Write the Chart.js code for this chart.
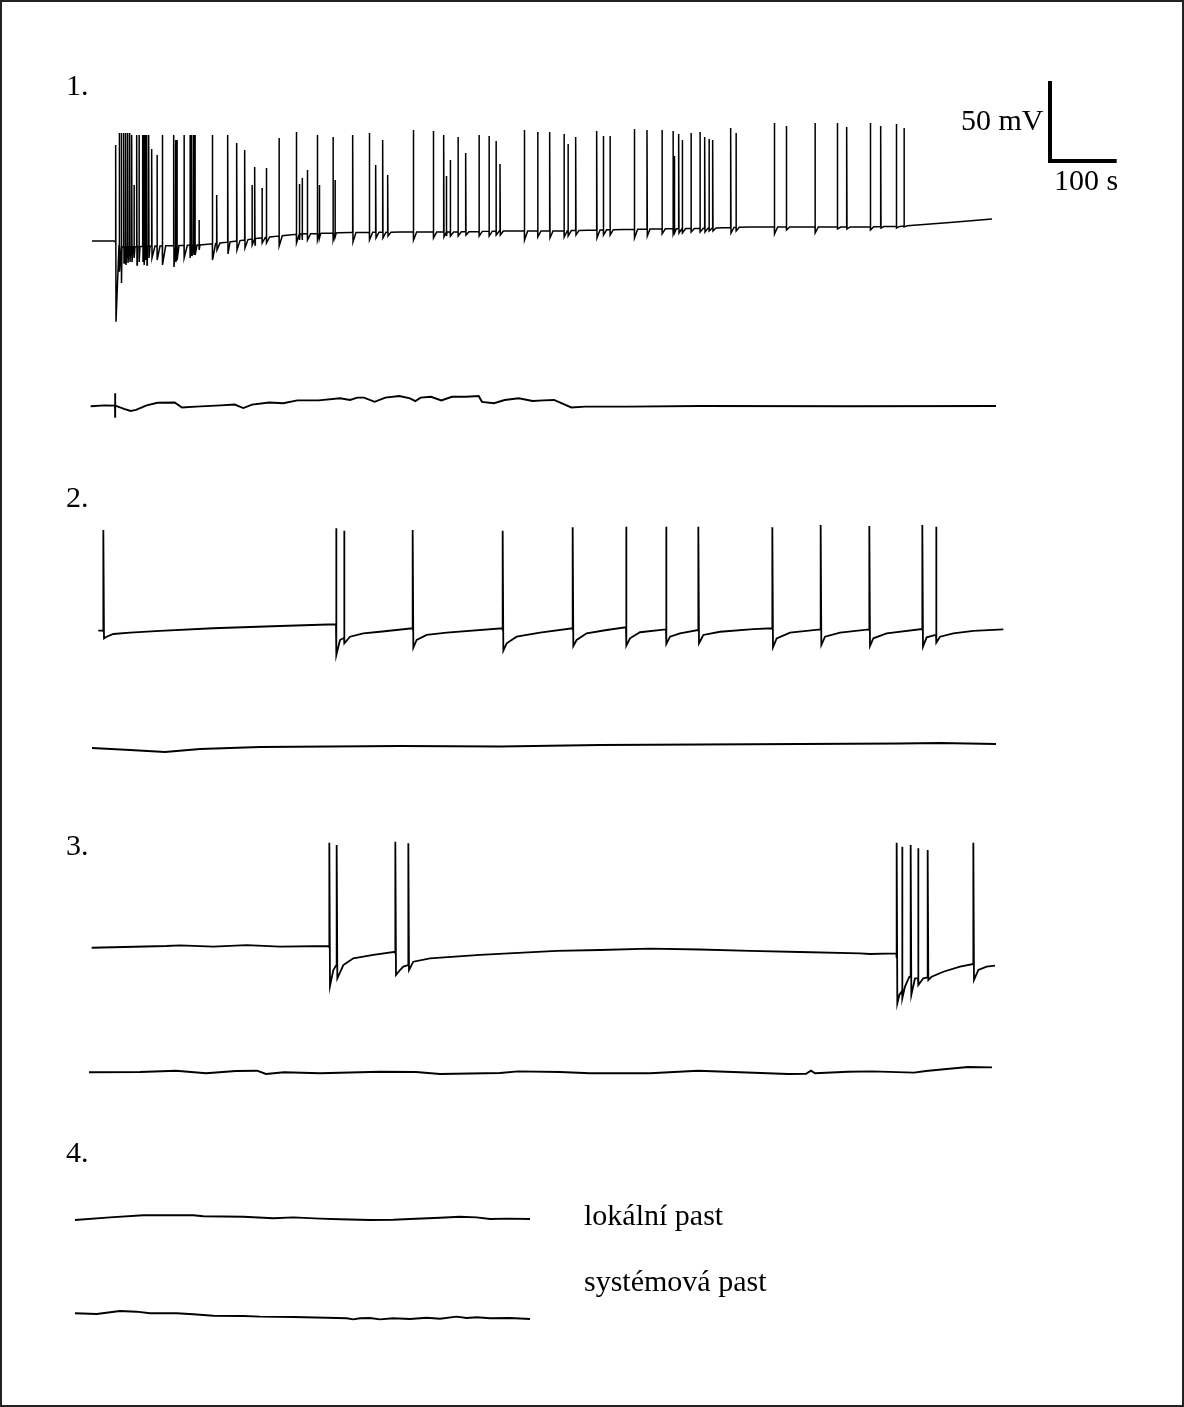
<!DOCTYPE html>
<html>
<head>
<meta charset="utf-8">
<script src="https://cdn.jsdelivr.net/npm/chart.js@4.4.1/dist/chart.umd.min.js"></script>
<style>
html, body { margin: 0; padding: 0; background: #fff; }
#fig { position: relative; width: 1184px; height: 1407px; overflow: hidden; background: #fff; }
#frame { position: absolute; left: 0; top: 0; width: 1184px; height: 1407px; box-sizing: border-box; border: 2px solid #222; }
#fig canvas { position: absolute; left: 40px; }
.lbl { position: absolute; font-family: "Liberation Serif", "Times New Roman", serif; font-size: 30px; line-height: 30px; color: #000; white-space: nowrap; }
</style>
</head>
<body>
<div id="fig">
  <div id="frame"></div>
  <canvas id="c1" width="1100" height="272" style="top:65px"></canvas>
  <canvas id="c1b" width="1100" height="50" style="top:380px"></canvas>
  <canvas id="c2" width="1100" height="160" style="top:510px"></canvas>
  <canvas id="c2b" width="1100" height="50" style="top:720px"></canvas>
  <canvas id="c3" width="1100" height="190" style="top:830px"></canvas>
  <canvas id="c3b" width="1100" height="40" style="top:1050px"></canvas>
  <canvas id="c4a" width="1100" height="40" style="top:1195px"></canvas>
  <canvas id="c4b" width="1100" height="40" style="top:1295px"></canvas>

  <div class="lbl" style="left:66px;top:70px">1.</div>
  <div class="lbl" style="left:66px;top:482px">2.</div>
  <div class="lbl" style="left:66px;top:830px">3.</div>
  <div class="lbl" style="left:66px;top:1137px">4.</div>
  <div class="lbl" id="mvLbl" style="left:961px;top:105px"></div>
  <div class="lbl" id="sLbl" style="left:1054px;top:165px"></div>
  <div class="lbl" style="left:584px;top:1200px">lokální past</div>
  <div class="lbl" style="left:584px;top:1266px">systémová past</div>
</div>

<script>
// cas v s, napeti v mV

// 1. zaznam - pomala zmena klidoveho potencialu
var trace1BaseT = [78,111,123,180,240,285,330,390,465,540,615,690,765,840,915,990,1065,1140,1215,1290,1365,1428];
var trace1BaseV = [-60,-60,-63.75,-63.1,-62.5,-60.6,-58.1,-55.6,-54.7,-54.4,-54.4,-53.75,-53.75,-53.1,-52.5,-52.1,-51.25,-51.25,-51.25,-50.9,-48.4,-46.25];

// 1. zaznam - akcni potencialy (prvni je artefakt stimulace)
var trace1SpikeT = [113.5,119,122,125.5,128.5,131.5,134.5,137.5,141,145,148.5,154,156,158,160,163,167.5,175.5,183.5,200.5,203.5,205.5,216,225,227.5,230.5,232.5,238.5,258.5,265,281.5,295,307,318,322,333,339.5,358.5,384.5,389,393,401,416,419,439.5,442.5,469,494,503.5,514,521.5,560,590,605.5,609.5,615.5,627,638.5,658.5,673.5,684,690,726.5,746.5,764.5,786,792,803.5,835,845,855,891.5,910.5,933,949.5,951.5,958,963.5,976.5,990,997,1003.5,1009,1036,1044,1101.5,1119.5,1162.5,1196,1210,1245.5,1261,1284.5,1296];
var trace1SpikePeak = [0,7.5,7.5,7.5,7.5,7.5,7.5,6.25,-25,6.25,6.25,6.25,6.25,6.25,6.25,6.25,-2.5,-6.25,6.25,6.25,3.1,3.1,6.25,6.25,6.25,6.25,6.25,-46.9,6.25,-31.25,6.25,1.25,-3.1,-25,-13.75,-26.9,-14.4,4.4,8.1,-24.4,-20.6,-15.6,6.25,-25,5,-21.9,6.25,7.5,-12.5,3.1,-18.75,9.4,8.75,6.25,-19.4,-9.4,5,-5,6.25,5.6,2.5,-11.9,9.4,8.1,8.1,6.9,0.6,5,8.75,5.6,5.6,10,9.4,9.4,8.75,-6.9,6.9,3.1,7.5,8.1,5,3.75,3.1,10.6,7.5,13.75,11.9,13.75,13.75,11.25,13.75,11.9,13.1,10.6];
var trace1SpikeTrough = [-110.4,-79.2,-86.25,-73.75,-75,-73.75,-73.1,-73.1,-70.6,-75,-73.1,-73.1,-75,-71.9,-75,-70.6,-70.6,-71.9,-75,-76.25,-73.1,-71.9,-70.6,-70.6,-69.4,-68.75,-68.75,-65.6,-71.9,-65.6,-68.1,-65.6,-64.4,-62.5,-62.5,-61.25,-61.25,-63.1,-61.25,-59.4,-59.4,-59.4,-59.4,-58.1,-59.4,-57.5,-60.6,-59.4,-58.1,-58.1,-56.9,-59.4,-58.1,-57.5,-56.9,-56.9,-56.9,-56.25,-56.9,-56.9,-56.25,-56.25,-59.4,-57.5,-58.1,-57.5,-56.9,-56.25,-58.1,-56.25,-56.25,-58.1,-56.9,-55.6,-55,-55,-55,-55,-54.4,-54.4,-54.4,-53.75,-53.75,-55,-53.75,-55.6,-53.1,-55,-52.5,-52.5,-53.1,-51.9,-51.9,-51.25];

// 1. zaznam - spodni stopa
var trace1bT = [76,97,113,126,136,144,160,176,202,213,234,271,292,305,318,344,365,386,418,450,465,476,486,502,518,539,555,563,571,586.5,602,618,639,658,663,681,697,718,739,755,771,797,818,850,881,990,1215,1434];
var trace1bV = [-0.2,0.4,0.25,-1.75,-3.1,-2.4,0.4,2,2.2,-0.9,-0.4,0.4,0.9,-1.3,0.9,2.2,1.75,3.5,3.5,4.8,3.75,5.25,5.25,2.6,5.25,6.2,4.8,3.1,5.25,5.75,3.5,5.75,5.75,6.2,2.6,1.75,3.75,4.8,3.1,3.5,3.75,-0.9,-0.4,-0.4,-0.4,0,-0.2,0];
var trace1bSpikeT = [112.5];
var trace1bSpikePeak = [7.9];
var trace1bSpikeTrough = [-7.4];

// 2. zaznam
var trace2BaseT = [87.5,94.5,100,110,135,180,259.5,360,443.5,450,455.5,465,485,510,558.5,565,580,610,693.5,700,715,750,798.5,805,820,850,878.5,885,900,938.5,945,960,987,995,1020,1070,1098,1105,1125,1170.5,1177.5,1200,1243.5,1250,1270,1323,1330,1343.5,1350,1370,1400,1445];
var trace2BaseV = [-60.4,-60.4,-64.2,-62.5,-61.7,-60.6,-58.9,-57.5,-56.4,-66.25,-65,-64.2,-62.1,-61.1,-58.9,-66.25,-63.1,-61.7,-58.9,-68.3,-64.2,-61.6,-58.9,-66.25,-62.1,-60,-58.3,-65.2,-61.4,-59.6,-64.2,-62.1,-60,-63.1,-61.1,-59.4,-58.9,-65.2,-61.7,-59.6,-64.2,-61.7,-59.6,-65.2,-62.1,-59.4,-64.6,-63.1,-64.2,-62.1,-60.6,-59.6];
var trace2SpikeT = [95,444,456,559,694,799,879,939,987.5,1098.5,1171,1244,1323.5,1344];
var trace2SpikePeak = [2.5,3.6,2.1,2.5,2.1,4.2,4.6,4.6,4.6,4.2,5.6,5,5.6,4.6];
var trace2SpikeTrough = [-65.2,-75.6,-68.3,-71.1,-72.9,-70,-69.8,-68.75,-68.3,-70.8,-69.4,-70,-70.4,-67.9];

var trace2bT = [78,135,187.5,240,330,540,690,840,990,1140,1290,1350,1434];
var trace2bV = [0,-1.25,-2.5,-0.6,0.6,1.25,0.9,1.9,2.2,2.5,2.8,3.1,2.5];

// 3. zaznam
var trace3BaseT = [77.5,190,210,260,310,360,433.5,440,444.5,455,470,500,532.5,540,545,552,560,585,660,775,840,915,990,1065,1140,1230,1245,1284.5,1289,1297.5,1304,1312.5,1325,1337.5,1355,1380,1399.5,1407.5,1420,1432.5];
var trace3BaseV = [-61.1,-60,-59.6,-60.4,-59.4,-60.4,-60,-75,-71.9,-71.9,-67.7,-65.6,-63.6,-75,-72.9,-71.9,-69.8,-67.7,-65.6,-63.1,-62.5,-61.6,-62.2,-63.1,-63.75,-64.6,-65,-64.6,-90.6,-85.4,-79.2,-80.2,-80.2,-79.2,-76.1,-72.9,-71.25,-75,-72.9,-72.3];
var trace3SpikeT = [434,445,533,552.5,1285,1293,1306,1317,1331.5,1400];
var trace3SpikePeak = [4.6,3.1,5.2,4.2,4.6,2.1,3.1,1.1,0,4.6];
var trace3SpikeTrough = [-85,-80.2,-78.1,-75,-95.8,-92.7,-90.6,-84.4,-81.25,-81.25];

var trace3bT = [73.5,150,204,249,294,325.5,339,366,420,510,564,600,690,717,780,825,915,987,1050,1122,1149,1156.5,1162.5,1212,1248,1311,1329,1356,1392,1428];
var trace3bV = [-0.2,0,0.8,-0.8,0.6,0.8,-1.25,-0.2,-0.8,0.2,0,-1.25,-0.6,0.4,0,-0.8,-0.8,0.8,-0.2,-1.25,-1.1,0.8,-0.8,0.2,0.4,-0.4,0.6,1.7,3.1,2.9];

// 4. kontrola - lokalni a systemova past
var trace4aT = [52.5,105,155,230,245,305,350,380,420,450,495,530,555,600,630,655,675,700,735];
var trace4aV = [-1.25,0.4,1.7,1.7,1.1,0.8,-0.2,0.4,-0.4,-0.8,-1.25,-1.1,-0.6,0.2,0.8,0.4,-0.6,-0.4,-0.6];
var trace4bT = [52.5,85,120,145,165,205,230,260,305,330,380,430,460,470,480,495,510,530,555,580,600,625,640,655,675,705,735];
var trace4bV = [1.7,1.25,3.1,2.7,1.7,1.7,1.1,0.2,0,-0.4,-0.6,-1.1,-1.4,-2.1,-1.4,-1.25,-2.1,-1.4,-1.9,-1.1,-1.7,-0.4,-1.25,-0.8,-1.4,-1.25,-1.9];

// meritko
var SCALE_MV = 50, SCALE_S = 100;
var scaleAtT = 1515, scaleAtV = -10;

// px na jednotku (stejne pro vsechny zaznamy)
var PX_PER_S = 2 / 3, PX_PER_MV = 1.6;

// linearni hodnota klidove linie v case t
function baseAt(ts, vs, t) {
    if (t <= ts[0]) return vs[0];
    for (var i = 1; i < ts.length; i++) {
        if (t <= ts[i]) return vs[i-1] + (vs[i] - vs[i-1]) * (t - ts[i-1]) / (ts[i] - ts[i-1]);
    }
    return vs[vs.length - 1];
}

// poskladat body zaznamu: linie + spicky (patka, vrchol, dolni bod, navrat)
function buildTrace(baseT, baseV, spT, spPeak, spTrough, lag, rec) {
    var pts = baseT.map(function(t, i){ return {x: t, y: baseV[i]}; });
    (spT || []).forEach(function(t, i){
        pts.push({x: t, y: baseAt(baseT, baseV, t)});
        pts.push({x: t, y: spPeak[i]});
        pts.push({x: t + lag, y: spTrough[i]});
        if (rec) pts.push({x: t + rec, y: baseAt(baseT, baseV, t + rec)});
    });
    pts.sort(function(a, b){ return a.x - b.x; });
    return pts;
}

function lineSet(pts, w) {
    return {
        data: pts,
        borderColor: '#000',
        borderWidth: w,
        pointRadius: 0,
        tension: 0,
        fill: false
    };
}

// jeden graf na kazdou stopu
function drawPanel(id, vTop, datasets) {
    var cv = document.getElementById(id);
    new Chart(cv, {
        type: 'line',
        data: { datasets: datasets },
        options: {
            responsive: false,
            animation: false,
            events: [],
            layout: { padding: 0 },
            plugins: { legend: { display: false }, tooltip: { enabled: false } },
            scales: {
                x: { type: 'linear', display: false, min: 0, max: cv.width / PX_PER_S },
                y: { type: 'linear', display: false, min: vTop - cv.height / PX_PER_MV, max: vTop }
            }
        }
    });
}

var scaleBar = lineSet([
    {x: scaleAtT, y: scaleAtV + SCALE_MV},
    {x: scaleAtT, y: scaleAtV},
    {x: scaleAtT + SCALE_S, y: scaleAtV}
], 4);
scaleBar.borderJoinStyle = 'miter';
scaleBar.borderCapStyle = 'butt';

drawPanel('c1', 50, [
    lineSet(buildTrace(trace1BaseT, trace1BaseV, trace1SpikeT, trace1SpikePeak, trace1SpikeTrough, 0.5, 5), 1.5),
    scaleBar
]);
drawPanel('c1b', 16.25, [lineSet(buildTrace(trace1bT, trace1bV, trace1bSpikeT, trace1bSpikePeak, trace1bSpikeTrough, 0.3, 1.5), 1.9)]);
drawPanel('c2', 15, [lineSet(buildTrace(trace2BaseT, trace2BaseV, trace2SpikeT, trace2SpikePeak, trace2SpikeTrough, 1, 0), 1.8)]);
drawPanel('c2b', 17.5, [lineSet(buildTrace(trace2bT, trace2bV), 1.9)]);
drawPanel('c3', 12.5, [lineSet(buildTrace(trace3BaseT, trace3BaseV, trace3SpikeT, trace3SpikePeak, trace3SpikeTrough, 1, 0), 1.8)]);
drawPanel('c3b', 13.75, [lineSet(buildTrace(trace3bT, trace3bV), 1.9)]);
drawPanel('c4a', 14.375, [lineSet(buildTrace(trace4aT, trace4aV), 1.9)]);
drawPanel('c4b', 13.125, [lineSet(buildTrace(trace4bT, trace4bV), 1.9)]);

document.getElementById('mvLbl').textContent = SCALE_MV + ' mV';
document.getElementById('sLbl').textContent = SCALE_S + ' s';
</script>
</body>
</html>
